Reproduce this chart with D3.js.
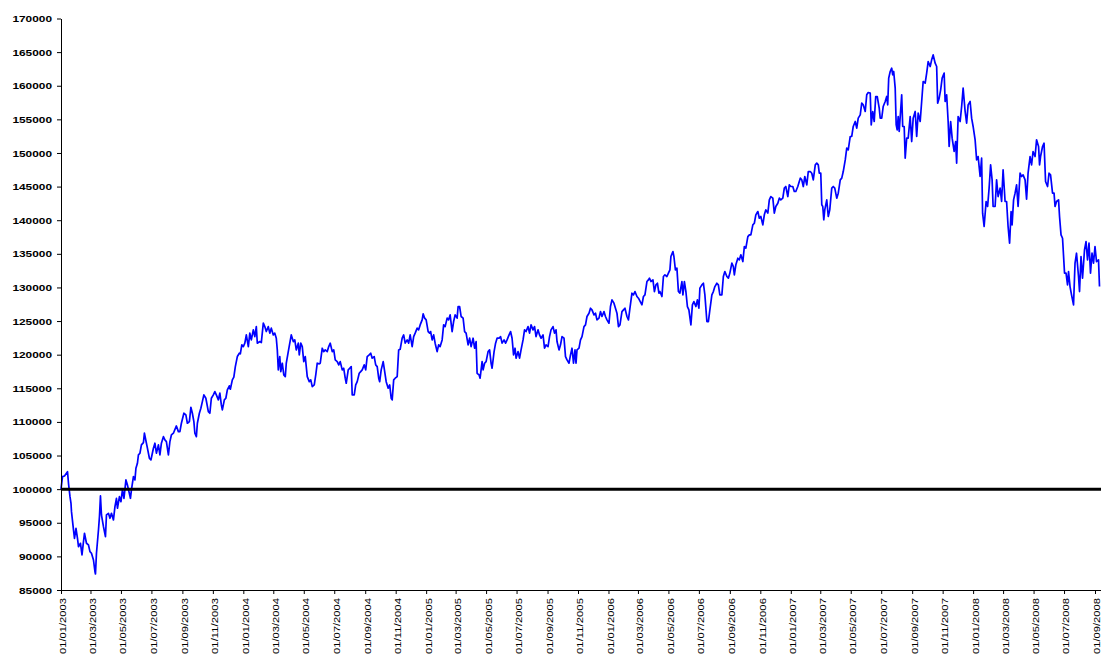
<!DOCTYPE html>
<html>
<head>
<meta charset="utf-8">
<script src="https://cdn.jsdelivr.net/npm/d3@7/dist/d3.min.js"></script>
<style>
  html, body { margin: 0; padding: 0; background: #fff; }
  svg { display: block; }
</style>
</head>
<body>
<svg id="chart" width="1101" height="655"></svg>
<script>
// ---- DATA ----
// day offsets since 01/01/2003
const days = [
0,3,7,13,15,18,20,21,25,27,30,33,35,39,42,45,47,51,55,58,61,65,68,69,71,75,77,79,81,85,89,91,95,98,101,105,108,111,113,117,120,123,126,130,133,136,139,141,145,148,150,153,155,158,161,165,167,169,173,177,180,185,188,191,195,198,201,205,208,211,215,218,221,225,231,235,
238,241,246,250,253,257,260,263,266,268,271,273,277,280,283,286,290,295,298,301,305,308,311,315,318,321,323,327,330,333,337,339,343,346,349,353,357,359,362,365,368,371,375,378,381,385,388,391,393,398,401,405,408,411,415,418,421,425,428,431,433,435,438,440,443,446,449,451,455,458,461,465,468,471,475,477,480,483,486,489,493,497,500,503,507,510,513,517,519,523,526,529,533,536,539,543,546,549,553,556,559,563,566,569,571,575,578,581,583,587,590,593,597,600,603,607,610,613,617,620,623,627,630,633,636,638,641,645,648,651,655,658,661,663,666,669,673,676,679,683,686,689,693,696,699,703,706,709,713,716,719,723,725,728,731,735,738,
740,743,746,749,753,756,759,763,766,769,773,776,779,783,786,789,793,795,798,801,805,808,811,815,818,821,825,828,831,833,837,839,843,845,848,851,855,858,861,863,867,870,873,877,880,883,887,890,893,897,900,903,906,909,911,915,918,921,925,928,931,935,938,941,945,948,951,955,958,961,965,968,971,975,978,981,985,988,991,993,997,1000,1003,1007,1010,1013,1017,1020,1023,1026,1029,1031,1033,1037,1040,1043,1047,1050,1053,1057,1060,1063,1067,1070,1073,1077,1080,1083,1087,1090,1093,1097,1100,1103,1107,1110,1113,1116,1119,1123,1126,1129,1133,1136,1139,1143,1146,1149,1153,1156,
1163,1166,1169,1173,1176,1178,1181,1185,1188,1191,1194,1197,1199,1203,1206,1209,1213,1216,1219,1221,1225,1227,1230,1233,1236,1239,1243,1245,1248,1251,1254,1257,1261,1264,1267,1271,1274,1277,1279,1283,1286,1289,1293,1296,1299,1303,1306,1309,1313,1316,1319,1323,1326,1329,1333,1336,1339,1343,1346,1348,1351,1355,1358,1361,1365,1368,1371,1375,1378,1381,1385,1388,1391,1395,1398,1401,1405,1408,1411,1415,1418,1421,1425,1428,1431,1435,1438,1441,1445,1448,1451,1455,1458,1461,1465,1468,1471,1475,1478,
1480,1483,1486,1489,1493,1496,1500,1503,1506,1510,1513,1516,1518,1521,1523,1525,1527,1529,1533,1536,1539,1543,1546,1549,1553,1556,1560,1563,1566,1570,1573,1576,1580,1583,1586,1590,1593,1596,1600,1603,1606,1610,1613,1616,1620,1622,1625,1628,1631,1634,1638,1640,1643,1646,1650,1653,1655,1657,1660,1663,1665,1667,1670,1672,1674,1676,1678,1681,1683,1685,1688,1690,1693,1696,1700,1703,1706,1710,1713,1716,1720,1723,1726,1730,1733,1736,1740,1743,1746,1750,1753,1755,1758,1761,1764,1768,1770,1773,1776,1778,1781,1784,1788,1791,1793,1796,1800,1803,1806,1810,1813,1816,1820,1823,1826,1830,1833,1836,1840,1843,1845,1848,1852,1855,1858,1861,1864,1866,1870,1873,1876,1880,1883,1886,1890,1893,1896,1899,1902,1904,1907,1910,1913,1916,1920,1923,1926,1930,1933,1936,1940,1943,1946,1950,1953,1957,1959,1961,1965,1968,1971,1975,1978,1981,1985,1988,1990,1993,1997,1999,2002,2005,2009,2012,2015,2017,2020,2023,2027,2030,2033,2037,2039,2042,2045,2049,2052,2055,2058,2061,2064,2067,2070,2073,2077,2079
];
const values = [
100000,101860,101960,102600,100870,98880,97900,96650,93930,92690,94180,92690,91440,91950,90210,92190,93440,91950,91700,90700,90460,89460,87720,87380,90460,93930,95910,98990,96160,94420,92930,96160,96410,95670,96410,95420,97400,98640,97160,98880,98140,99880,98640,101370,100620,99630,98640,99880,101860,101370,103110,103850,105090,105340,106580,106920,108320,107570,106090,104600,104340,106090,106830,105340,106580,105090,106830,107810,107320,107070,105090,107070,108060,108320,109400,108560,
108560,109800,111290,111040,109800,110050,112180,111290,110050,108320,107810,109800,111290,112040,113020,114020,113520,111530,111290,113520,114020,114510,114020,113270,114270,112530,111780,113270,113520,114760,115360,114860,116250,116650,118230,119720,120220,120120,121460,121200,121710,122940,121200,123200,122200,123690,122690,124180,121710,121950,121800,124680,124180,123440,124180,123200,123940,122940,123200,122450,120710,117740,119720,117480,118730,116990,116740,118730,120460,121710,122940,121950,122200,120710,121710,119970,121710,121200,118970,119720,116740,115990,116250,115250,115500,116990,118730,118630,118730,120960,120460,120710,120460,121200,121710,120460,120710,119220,118970,118480,118970,117740,117980,116500,115750,117740,117980,118230,114020,114020,115500,115990,117230,117480,117740,118480,117740,119720,119970,120220,119480,119720,118480,118230,116500,115990,117740,118970,117480,115990,115010,115500,113520,113270,116250,116500,116740,120710,120810,122450,122940,121710,122200,121710,122940,121200,122690,123200,123940,123690,124430,125180,126070,125430,125180,123440,123200,
123440,122200,122940,121710,120460,121460,121200,122200,124430,124180,125430,125180,125920,123440,124930,125920,125430,127160,127160,125680,125430,123440,123200,121460,122450,121200,122450,120960,121950,117230,116990,116500,118970,117740,118730,118970,120460,120710,118730,117980,120460,121710,122450,122450,122690,121710,122200,121710,122200,122940,123440,122450,119970,120960,119480,120460,119480,120710,122200,123690,123440,124180,123200,124430,123690,124180,122690,123690,122940,122450,122940,120960,121460,121200,122690,123690,124180,123200,123690,121950,120710,121460,122690,122450,119720,119220,118730,119970,120960,118730,120710,118730,120710,120960,122200,122690,124180,124430,125680,126170,126910,126660,125920,126170,125180,125430,126410,125680,126410,125680,125180,124680,127160,128150,127660,126910,126170,124180,124430,126410,126660,126910,125680,125180,126910,129140,128900,129390,128650,128400,
127410,128650,128900,130880,131130,131380,130880,131130,129390,130380,130630,129140,129390,128650,131630,131880,131630,132130,132620,134600,135340,134600,132620,132870,129390,129140,130880,128900,130880,129390,127160,126660,124430,127410,127900,127160,128150,126910,129890,130380,130630,128900,124930,124930,126660,128900,129390,130130,130630,130380,128900,128900,131630,132370,131630,131380,132130,133610,133110,131880,133360,134350,134100,134850,133850,136080,135840,137560,137820,137820,139310,139550,140800,141290,140300,140550,139310,140800,141540,141050,143030,143520,143280,141050,142040,142530,143280,143030,143280,144770,145010,143520,145260,145010,145010,144270,144270,145010,145750,
146260,146000,145010,146500,145260,147240,147240,146990,146000,148230,148480,148230,146990,146990,142290,142040,140060,141540,143030,140550,141540,144770,145010,144770,143280,144020,146000,146260,147240,148970,150720,150470,152450,152450,153940,154680,153690,155180,155670,157410,157160,156170,158650,158990,158900,154180,156170,154680,158400,158400,156660,155180,155180,156910,157660,158400,157160,161130,162120,162610,161630,162120,159640,154180,153440,155420,153190,156420,158650,153940,153940,149220,152200,152200,155420,151700,155180,156170,152450,155920,154680,157660,160630,160380,161870,163600,162860,163850,164590,163350,162860,157410,158150,159390,161130,161870,157660,158650,154680,150960,154680,152200,150220,151700,148480,155420,154680,156910,159640,156170,154430,157160,157660,155180,153940,151950,148970,149470,146500,149220,141050,139060,142780,142040,144770,148240,146000,142040,142040,146000,143520,144770,142780,147490,142780,142780,139060,136580,141290,139310,143030,144020,145260,142040,146990,146500,146750,146000,143130,146990,149470,148230,150220,149470,151950,150960,148230,149470,150960,151450,145750,145010,146990,146750,144020,144020,142040,142780,143030,140550,137820,137320,132130,132130,130380,132370,130130,128900,127410,133610,135090,131630,129390,134600,131380,135590,136820,134100,136580,132130,135090,133610,136080,133850,134100,130130
];
const yTickValues = [85000,90000,95000,100000,105000,110000,115000,120000,125000,130000,135000,140000,145000,150000,155000,160000,165000,170000];
const xTickLabels = [
"01/01/2003","01/03/2003","01/05/2003","01/07/2003","01/09/2003","01/11/2003",
"01/01/2004","01/03/2004","01/05/2004","01/07/2004","01/09/2004","01/11/2004",
"01/01/2005","01/03/2005","01/05/2005","01/07/2005","01/09/2005","01/11/2005",
"01/01/2006","01/03/2006","01/05/2006","01/07/2006","01/09/2006","01/11/2006",
"01/01/2007","01/03/2007","01/05/2007","01/07/2007","01/09/2007","01/11/2007",
"01/01/2008","01/03/2008","01/05/2008","01/07/2008","01/09/2008"
];
const baseline = 100000;
const startDate = "01/01/2003";
const endOffsetDays = 2082;

// ---- CHART ----
(function () {
  const parse = d3.utcParse("%d/%m/%Y");
  const fmt = d3.utcFormat("%d/%m/%Y");
  const start = parse(startDate);
  const data = days.map((d, i) => ({ date: d3.utcDay.offset(start, d), value: values[i] }));

  const svg = d3.select("#chart");
  const pL = 61, pR = 1101, pT = 18.5, pB = 590;

  const x = d3.scaleUtc().domain([start, d3.utcDay.offset(start, endOffsetDays)]).range([pL, pR]);
  const y = d3.scaleLinear().domain([85000, 170000]).range([pB, pT]);

  svg.append("rect").attr("width", 1101).attr("height", 655).attr("fill", "#fff");

  const line = d3.line().x(d => x(d.date)).y(d => y(d.value));
  svg.append("path")
    .datum(data)
    .attr("d", line)
    .attr("fill", "none")
    .attr("stroke", "#0000ff")
    .attr("stroke-width", 1.7)
    .attr("stroke-linejoin", "round");

  svg.append("line")
    .attr("x1", x.range()[0]).attr("x2", x.range()[1])
    .attr("y1", y(baseline)).attr("y2", y(baseline))
    .attr("stroke", "#000").attr("stroke-width", 3);

  const yAxis = svg.append("g")
    .attr("transform", `translate(${pL},0)`)
    .call(d3.axisLeft(y).tickValues(yTickValues).tickSize(4).tickSizeOuter(0).tickPadding(5).tickFormat(d3.format("d")));
  yAxis.select(".domain").attr("stroke", "#000");
  yAxis.selectAll(".tick line").attr("stroke", "#000");
  yAxis.selectAll("text")
    .attr("fill", "#000")
    .style("font-family", "'Liberation Sans', Arial, sans-serif")
    .style("font-weight", "bold")
    .style("font-size", "9.5px")
    .attr("textLength", d => String(d).length * 6.6)
    .attr("lengthAdjust", "spacingAndGlyphs");

  const xAxis = svg.append("g")
    .attr("transform", `translate(0,${pB})`)
    .call(d3.axisBottom(x).tickValues(xTickLabels.map(parse)).tickSize(4).tickSizeOuter(0).tickFormat(fmt));
  xAxis.select(".domain").attr("stroke", "#000");
  xAxis.selectAll(".tick line").attr("stroke", "#000");
  xAxis.selectAll("text")
    .attr("fill", "#000")
    .attr("transform", "rotate(-90)")
    .attr("text-anchor", "end")
    .attr("x", -8)
    .attr("y", 0)
    .attr("dy", "0.55em")
    .style("font-family", "'Liberation Sans', Arial, sans-serif")
    .style("font-size", "9px")
    .attr("textLength", 56)
    .attr("lengthAdjust", "spacingAndGlyphs");
})();
</script>
</body>
</html>
